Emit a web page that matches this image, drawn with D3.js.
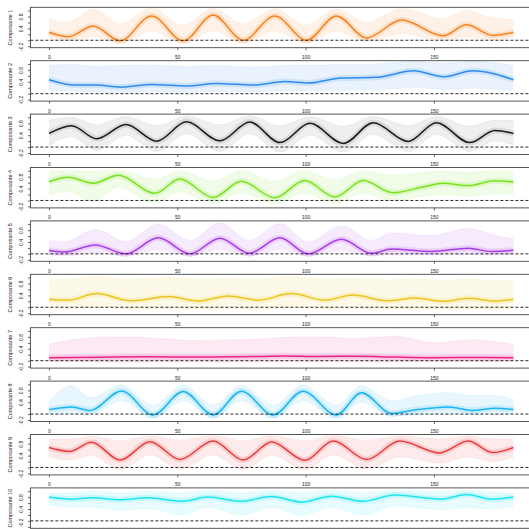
<!DOCTYPE html>
<html>
<head>
<meta charset="utf-8">
<script src="https://cdn.jsdelivr.net/npm/d3@7"></script>
<style>
  body { margin: 0; background: #fff; }
  svg { display: block; font-family: "Liberation Sans", Arial, sans-serif; }
</style>
</head>
<body>
<svg width="529" height="529"></svg>
<script>
// values, one set per component
const comp1X = [0, 7.5, 17.3, 27.7, 40, 52.3, 64, 75.7, 88, 100.4, 112, 123.8, 137.4, 153.6, 162.7, 173, 181];
const comp1Mean = [0.27, 0.12, 0.48, -0.02, 0.82, -0.02, 0.85, 0.0, 0.82, 0.0, 0.82, 0.08, 0.68, 0.15, 0.52, 0.16, 0.27];
const comp1Hi = [0.72, 0.6, 1.05, 0.55, 1.08, 0.5, 1.08, 0.55, 1.05, 0.5, 1.05, 0.6, 1.06, 0.72, 1.0, 0.75, 0.7];
const comp1Lo = [0.08, -0.02, 0.12, -0.1, 0.3, -0.1, 0.32, -0.1, 0.3, -0.1, 0.3, -0.04, 0.22, 0.0, 0.1, 0.02, 0.1];

const comp2X = [0, 10, 18, 28, 40, 54, 65, 80, 92, 101, 114, 128, 142, 154, 165, 181];
const comp2Mean = [0.47, 0.29, 0.29, 0.22, 0.31, 0.26, 0.34, 0.29, 0.41, 0.36, 0.53, 0.55, 0.77, 0.57, 0.77, 0.47];
const comp2Hi = [0.95, 0.98, 0.92, 0.95, 0.96, 0.92, 0.95, 0.9, 0.95, 0.95, 0.98, 1.0, 1.08, 1.02, 1.08, 0.95];
const comp2Lo = [0.12, 0.08, 0.06, 0.04, 0.06, 0.05, 0.08, 0.06, 0.1, 0.1, 0.12, 0.14, 0.2, 0.15, 0.18, 0.12];

const comp3X = [0, 8.8, 18.6, 30, 42, 53.6, 66.6, 78.3, 90, 101.7, 114.7, 126.4, 140, 151, 164, 173.8, 181];
const comp3Mean = [0.46, 0.72, 0.28, 0.76, 0.2, 0.85, 0.21, 0.84, 0.15, 0.8, 0.12, 0.82, 0.19, 0.82, 0.15, 0.56, 0.46];
const comp3Hi = [0.9, 1.0, 0.75, 1.02, 0.72, 1.05, 0.75, 1.05, 0.72, 1.02, 0.7, 1.03, 0.72, 1.03, 0.7, 0.9, 0.9];
const comp3Lo = [0.05, 0.35, -0.12, 0.4, -0.15, 0.45, -0.15, 0.45, -0.17, 0.4, -0.17, 0.42, -0.15, 0.42, -0.15, 0.2, 0.08];

const comp4X = [0, 7.5, 17.3, 27, 41.3, 51, 64, 75, 88, 99.7, 111.4, 122.5, 134, 146.5, 153.6, 163.4, 173.8, 181];
const comp4Mean = [0.63, 0.78, 0.58, 0.85, 0.24, 0.72, 0.1, 0.65, 0.09, 0.67, 0.12, 0.67, 0.26, 0.47, 0.58, 0.5, 0.66, 0.62];
const comp4Hi = [0.98, 1.0, 0.98, 1.02, 0.72, 1.0, 0.65, 1.0, 0.65, 1.0, 0.7, 1.0, 0.85, 0.95, 0.98, 0.95, 1.0, 0.98];
const comp4Lo = [0.2, 0.3, -0.05, 0.45, -0.1, 0.3, -0.12, 0.25, -0.12, 0.25, -0.12, 0.25, -0.02, 0.15, 0.2, 0.15, 0.22, 0.2];

const comp5X = [0, 6, 18, 30, 42.6, 55, 66.6, 78, 90, 101, 114, 125.7, 133.5, 149, 163.4, 172.5, 181];
const comp5Mean = [0.11, 0.06, 0.3, 0.0, 0.54, 0.0, 0.53, 0.02, 0.54, 0.0, 0.49, 0.02, 0.16, 0.08, 0.19, 0.08, 0.12];
const comp5Hi = [0.45, 0.4, 0.82, 0.42, 1.0, 0.45, 1.05, 0.45, 1.02, 0.4, 0.95, 0.45, 0.7, 0.62, 0.85, 0.65, 0.5];
const comp5Lo = [-0.04, -0.06, 0.05, -0.08, 0.15, -0.08, 0.15, -0.08, 0.15, -0.08, 0.12, -0.08, -0.02, -0.04, -0.02, -0.04, -0.02];

const comp6X = [0, 7.5, 18.6, 32, 46.5, 58, 70, 81.5, 94.5, 107.5, 118.5, 132, 142.6, 154, 163.4, 173.8, 181];
const comp6Mean = [0.27, 0.24, 0.46, 0.22, 0.36, 0.21, 0.38, 0.24, 0.46, 0.24, 0.41, 0.22, 0.31, 0.2, 0.3, 0.21, 0.27];
const comp6Hi = [0.92, 0.95, 1.02, 0.95, 1.0, 0.95, 0.98, 0.95, 1.02, 0.95, 0.98, 0.92, 0.95, 0.9, 0.95, 0.9, 0.9];
const comp6Lo = [-0.02, -0.05, 0.0, -0.06, -0.04, -0.06, -0.04, -0.06, -0.02, -0.06, -0.04, -0.06, -0.05, -0.06, -0.05, -0.06, -0.03];

const comp7X = [0, 10, 25, 40, 55, 70, 82, 92, 105, 120, 135, 150, 165, 181];
const comp7Mean = [0.1, 0.11, 0.12, 0.13, 0.12, 0.13, 0.14, 0.16, 0.14, 0.15, 0.12, 0.1, 0.11, 0.1];
const comp7Hi = [0.55, 0.72, 0.8, 0.76, 0.68, 0.7, 0.72, 0.78, 0.8, 0.75, 0.82, 0.6, 0.7, 0.55];
const comp7Lo = [-0.04, -0.04, -0.05, -0.05, -0.04, -0.05, -0.04, -0.04, -0.04, -0.04, -0.05, -0.04, -0.04, -0.04];

const comp8X = [0, 8.8, 16, 28.3, 40.6, 52.3, 64, 75, 87.4, 99, 112, 121.8, 133.5, 142.6, 155.6, 165.3, 173.8, 181];
const comp8Mean = [0.15, 0.24, 0.12, 0.78, -0.03, 0.76, -0.03, 0.77, -0.03, 0.77, -0.03, 0.72, 0.02, 0.14, 0.24, 0.12, 0.2, 0.15];
const comp8Hi = [0.42, 0.95, 0.55, 0.98, 0.3, 0.98, 0.3, 0.98, 0.3, 0.98, 0.3, 0.95, 0.45, 0.6, 0.72, 0.62, 0.62, 0.5];
const comp8Lo = [-0.02, 0.02, -0.02, 0.45, -0.15, 0.45, -0.15, 0.45, -0.15, 0.45, -0.15, 0.4, -0.08, -0.03, 0.0, -0.02, 0.0, 0.0];

const comp9X = [0, 8, 16.6, 27.7, 39.4, 51, 64, 75.7, 86.8, 99.7, 110.8, 123.8, 136.8, 152.3, 163.4, 173, 181];
const comp9Mean = [0.67, 0.54, 0.85, 0.25, 0.87, 0.27, 0.89, 0.25, 0.86, 0.24, 0.89, 0.27, 0.89, 0.49, 0.89, 0.5, 0.67];
const comp9Hi = [0.95, 0.95, 1.05, 0.9, 1.06, 0.92, 1.07, 0.9, 1.06, 0.9, 1.07, 0.92, 1.06, 0.95, 1.06, 0.95, 0.95];
const comp9Lo = [0.35, 0.25, 0.4, -0.07, 0.42, -0.06, 0.42, -0.07, 0.42, -0.07, 0.42, -0.05, 0.35, 0.15, 0.35, 0.2, 0.35];

const comp10X = [0, 8.8, 16.6, 27.7, 38.7, 51.7, 62, 75, 86.8, 98.4, 110, 122.5, 134.8, 153, 162.7, 172.5, 181];
const comp10Mean = [0.8, 0.73, 0.78, 0.71, 0.78, 0.66, 0.8, 0.66, 0.82, 0.63, 0.83, 0.66, 0.87, 0.73, 0.89, 0.73, 0.8];
const comp10Hi = [0.92, 0.95, 1.0, 0.95, 1.0, 0.95, 1.02, 0.95, 1.02, 0.95, 1.02, 0.95, 1.02, 0.98, 1.02, 0.98, 0.92];
const comp10Lo = [0.55, 0.45, 0.45, 0.35, 0.42, 0.2, 0.45, 0.2, 0.45, 0.18, 0.45, 0.2, 0.5, 0.38, 0.45, 0.4, 0.5];

const panelLabels = ["Composante 1", "Composante 2", "Composante 3", "Composante 4", "Composante 5",
  "Composante 6", "Composante 7", "Composante 8", "Composante 9", "Composante 10"];
const xTicks = [0, 50, 100, 150];
const yTicks = [-0.2, 0, 0.2, 0.4, 0.6, 0.8, 1.0];
const yTickLabels = [-0.2, 0.4, 0.8];

const colors = ["#f7821c", "#2f8ceb", "#1a1a1a", "#78e21c", "#a93ce8",
  "#ecc41e", "#e8248b", "#1cb5f0", "#ea3c3e", "#1ce5f0"];

const panels = [
  [comp1X, comp1Mean, comp1Hi, comp1Lo],
  [comp2X, comp2Mean, comp2Hi, comp2Lo],
  [comp3X, comp3Mean, comp3Hi, comp3Lo],
  [comp4X, comp4Mean, comp4Hi, comp4Lo],
  [comp5X, comp5Mean, comp5Hi, comp5Lo],
  [comp6X, comp6Mean, comp6Hi, comp6Lo],
  [comp7X, comp7Mean, comp7Hi, comp7Lo],
  [comp8X, comp8Mean, comp8Hi, comp8Lo],
  [comp9X, comp9Mean, comp9Hi, comp9Lo],
  [comp10X, comp10Mean, comp10Hi, comp10Lo]
];

const svg = d3.select("svg");
const firstTop = 7.3;
const pitch = 53.4;
const panelH = 40.4;

const x = d3.scaleLinear().domain([-7.24, 188.24]).range([30.4, 532]);
const y = d3.scaleLinear().domain([-0.25, 1.11]).range([panelH, 0]);

panels.forEach(([xs, mean, hi, lo], p) => {
  const top = firstTop + p * pitch;
  const col = colors[p];
  const last = p === panels.length - 1;
  const g = svg.append("g").attr("transform", `translate(0,${top})`);
  const idx = d3.range(xs.length);
  const dark = p === 2;

  // spread of the individual curves
  g.append("path")
    .datum(idx)
    .attr("fill", col)
    .attr("fill-opacity", dark ? 0.07 : 0.1)
    .attr("d", d3.area()
      .x((i) => x(xs[i]))
      .y0((i) => y(lo[i]))
      .y1((i) => y(hi[i]))
      .curve(d3.curveMonotoneX));

  [hi, lo].forEach((edge) => {
    g.append("path")
      .datum(idx)
      .attr("fill", "none")
      .attr("stroke", col)
      .attr("stroke-opacity", dark ? 0.1 : 0.16)
      .attr("stroke-width", 0.5)
      .attr("d", d3.line()
        .x((i) => x(xs[i]))
        .y((i) => y(edge[i]))
        .curve(d3.curveMonotoneX));
  });

  const meanLine = d3.line()
    .x((i) => x(xs[i]))
    .y((i) => y(mean[i]))
    .curve(d3.curveMonotoneX);

  // dense core around the mean
  g.append("path")
    .datum(idx)
    .attr("fill", "none")
    .attr("stroke", col)
    .attr("stroke-opacity", dark ? 0.1 : 0.16)
    .attr("stroke-width", 6)
    .attr("d", meanLine);

  g.append("path")
    .datum(idx)
    .attr("fill", "none")
    .attr("stroke", col)
    .attr("stroke-width", 1.5)
    .attr("d", meanLine);

  // zero reference
  g.append("line")
    .attr("x1", x.range()[0])
    .attr("x2", x.range()[1])
    .attr("y1", y(0))
    .attr("y2", y(0))
    .attr("stroke", "#111")
    .attr("stroke-width", 0.9)
    .attr("stroke-dasharray", "3,2");

  g.append("rect")
    .attr("x", x.range()[0])
    .attr("y", 0)
    .attr("width", x.range()[1] - x.range()[0])
    .attr("height", panelH)
    .attr("fill", "none")
    .attr("stroke", "#444")
    .attr("stroke-width", 0.9);

  const yAxis = g.append("g")
    .attr("transform", `translate(${x.range()[0]},0)`)
    .call(d3.axisLeft(y).tickValues(yTicks).tickSize(2.5)
      .tickFormat((d) => (yTickLabels.includes(d) ? String(d) : "")));
  yAxis.select(".domain").remove();
  yAxis.selectAll("line").attr("stroke", "#444").attr("stroke-width", 0.8);
  yAxis.selectAll("text")
    .attr("x", 0)
    .attr("y", -7.4)
    .attr("dy", 0)
    .attr("text-anchor", "middle")
    .attr("transform", "rotate(-90)")
    .attr("font-size", 5)
    .attr("font-family", "Liberation Sans, Arial, sans-serif")
    .attr("fill", "#222");
  if (last) {
    // keep the bottom label inside the picture
    yAxis.selectAll(".tick")
      .filter((d) => d === -0.2)
      .select("text")
      .attr("text-anchor", "start")
      .attr("x", 0.3);
  }

  // the last panel's x axis falls below the picture
  if (!last) {
    const xAxis = g.append("g")
      .attr("transform", `translate(0,${panelH})`)
      .call(d3.axisBottom(x).tickValues(xTicks).tickSize(2.5).tickPadding(5.5));
    xAxis.select(".domain").remove();
    xAxis.selectAll("line").attr("stroke", "#444").attr("stroke-width", 0.8);
    xAxis.selectAll("text")
      .attr("font-size", 5)
      .attr("font-family", "Liberation Sans, Arial, sans-serif")
      .attr("fill", "#222");
  }

  g.append("text")
    .attr("transform", `translate(12,${panelH / 2}) rotate(-90)`)
    .attr("text-anchor", "middle")
    .attr("font-size", 5.5)
    .attr("fill", "#222")
    .text(panelLabels[p]);
});
</script>
</body>
</html>
